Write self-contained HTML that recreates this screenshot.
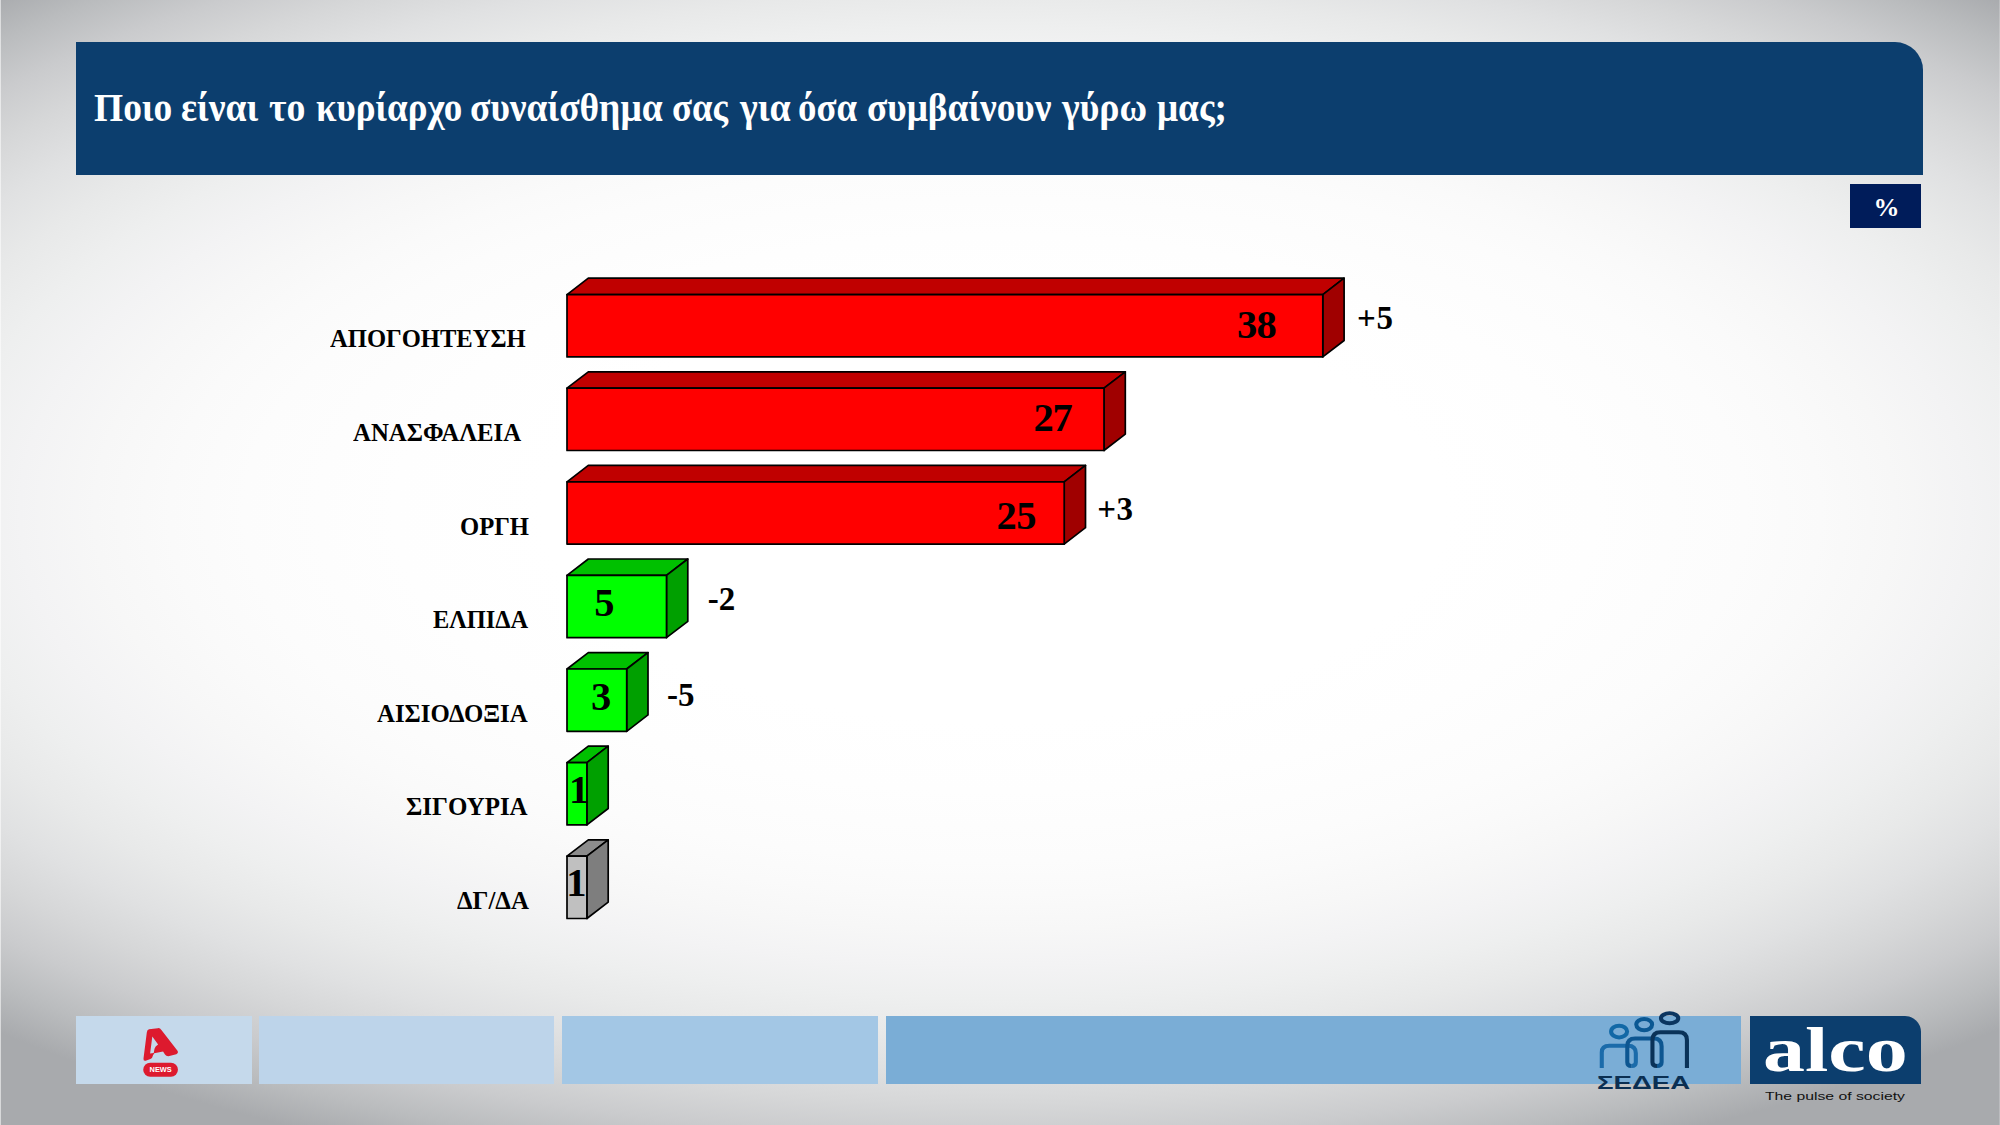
<!DOCTYPE html>
<html lang="el">
<head>
<meta charset="utf-8">
<title>Ποιο είναι το κυρίαρχο συναίσθημα σας για όσα συμβαίνουν γύρω μας;</title>
<style>
html,body{margin:0;padding:0;}
body{width:2000px;height:1125px;overflow:hidden;position:relative;background:#fff;font-family:"Liberation Serif",serif;}
div,span,h1{transform-origin:0 0;}
#hdr{position:absolute;left:76px;top:42.4px;width:1847.4px;height:132.6px;background:#0C3E6E;border-top-right-radius:28px;}
#title{position:absolute;left:0;margin:0;color:#fff;font-weight:bold;font-size:40px;line-height:40px;white-space:pre;width:2000px;height:40px;}
#title span{position:absolute;top:0;}
#pctbox{position:absolute;left:1850.2px;top:184.2px;width:71.2px;height:44px;background:#001C5A;}
.pct{position:absolute;color:#fff;font-weight:bold;font-size:26px;line-height:26px;}
.lab{position:absolute;font-weight:bold;font-size:26px;line-height:26px;color:#000;white-space:pre;}
.val{position:absolute;font-weight:bold;font-size:40.5px;line-height:40.5px;color:#000;white-space:pre;}
.dlt{position:absolute;font-weight:bold;font-size:33px;line-height:33px;color:#000;white-space:pre;}
.bar{position:absolute;left:0;top:0;}
.bar polygon,.bar rect{stroke:#000;stroke-width:1.7;stroke-linejoin:round;}
.fb{position:absolute;top:1015.5px;height:68.5px;}
.news{position:absolute;font-family:"Liberation Sans",sans-serif;font-weight:bold;font-size:7.4px;line-height:7.4px;color:#fff;white-space:pre;}
.sedea{position:absolute;font-family:"Liberation Sans",sans-serif;font-weight:bold;font-size:18.2px;line-height:18.2px;color:#0B2F52;white-space:pre;}
.alco{position:absolute;font-family:"Liberation Serif",serif;font-weight:bold;font-size:63px;line-height:63px;color:#fff;white-space:pre;}
.pulse{position:absolute;font-family:"Liberation Sans",sans-serif;font-weight:normal;font-size:11px;line-height:11px;color:#111;white-space:pre;}
#logos{position:absolute;left:0;top:0;}

</style>
</head>
<body>
<div id="bg">
<div class="bgt" style="position:absolute;left:0;top:0;width:2000px;height:513.0px;background:radial-gradient(ellipse 1500px 695px at 995px 513px,rgb(255,255,255) 0%,rgb(255,255,255) 30%,rgb(254,254,254) 40%,rgb(253,253,253) 45%,rgb(252,252,252) 50%,rgb(250,250,250) 55%,rgb(247,247,247) 60%,rgb(243,243,244) 65%,rgb(238,239,239) 70%,rgb(232,233,233) 75%,rgb(224,225,226) 80%,rgb(214,215,216) 85%,rgb(202,203,205) 90%,rgb(186,188,190) 95%,rgb(168,170,173) 100%);"></div>
<div class="bgb" style="position:absolute;left:0;top:513.0px;width:2000px;height:612.0px;background:radial-gradient(ellipse 1500px 695px at 995px 0.0px,rgb(255,255,255) 0%,rgb(255,255,255) 30%,rgb(254,254,254) 40%,rgb(253,253,253) 45%,rgb(252,252,252) 50%,rgb(250,250,250) 55%,rgb(247,247,247) 60%,rgb(243,243,244) 65%,rgb(238,239,239) 70%,rgb(232,233,233) 75%,rgb(224,225,226) 80%,rgb(214,215,216) 85%,rgb(202,203,205) 90%,rgb(186,188,190) 95%,rgb(168,170,173) 100%);"></div>
<div style="position:absolute;left:0;top:0;width:1px;height:1125px;background:rgba(255,255,255,0.55)"></div>
<div style="position:absolute;left:1999px;top:0;width:1px;height:1125px;background:rgba(255,255,255,0.22)"></div>
</div>

<div id="hdr"></div>
<h1 id="title" style="top:88px"><span style="left:94.4px;transform:scaleX(0.9365)">Ποιο</span> <span style="left:181.0px;transform:scaleX(0.9383)">είναι</span> <span style="left:269.0px;transform:scaleX(0.9452)">το</span> <span style="left:315.6px;transform:scaleX(0.9261)">κυρίαρχο</span> <span style="left:470.0px;transform:scaleX(0.9373)">συναίσθημα</span> <span style="left:672.0px;transform:scaleX(0.918)">σας</span> <span style="left:739.6px;transform:scaleX(0.9472)">για</span> <span style="left:798.0px;transform:scaleX(0.9206)">όσα</span> <span style="left:867.0px;transform:scaleX(0.9337)">συμβαίνουν</span> <span style="left:1062.0px;transform:scaleX(0.9438)">γύρω</span> <span style="left:1157.0px;transform:scaleX(0.9306)">μας;</span></h1>
<div id="pctbox"></div>
<div class="pct" style="left:1873.6px;top:195.0px;">%</div>
<div id="chart">
<div class="row">
<div class="lab" style="left:330.4px;top:326.1px;transform:scaleX(0.9459);">ΑΠΟΓΟΗΤΕΥΣΗ</div>
<svg class="bar" width="2000" height="1125" viewBox="0 0 2000 1125"><polygon points="567.0,294.6 588.3,278.2 1344.1,278.2 1322.8,294.6" fill="#C00000"/><polygon points="1322.8,294.6 1344.1,278.2 1344.1,340.5 1322.8,356.9" fill="#A00000"/><rect x="567.0" y="294.6" width="755.8" height="62.3" fill="#FF0000"/></svg>
<div class="val" style="left:1236.9px;top:305.4px;letter-spacing:-0.7px;">38</div>
<div class="dlt" style="left:1356.9px;top:301.8px;letter-spacing:0.8px;">+5</div>
</div>
<div class="row">
<div class="lab" style="left:353.3px;top:420.3px;transform:scaleX(0.954);">ΑΝΑΣΦΑΛΕΙΑ</div>
<svg class="bar" width="2000" height="1125" viewBox="0 0 2000 1125"><polygon points="567.0,388.2 588.3,371.8 1125.3,371.8 1104.0,388.2" fill="#C00000"/><polygon points="1104.0,388.2 1125.3,371.8 1125.3,434.1 1104.0,450.5" fill="#A00000"/><rect x="567.0" y="388.2" width="537.0" height="62.3" fill="#FF0000"/></svg>
<div class="val" style="left:1033.4px;top:398.1px;letter-spacing:-1.2px;">27</div>
</div>
<div class="row">
<div class="lab" style="left:459.7px;top:514.3px;transform:scaleX(0.9473);">ΟΡΓΗ</div>
<svg class="bar" width="2000" height="1125" viewBox="0 0 2000 1125"><polygon points="567.0,481.8 588.3,465.4 1085.5,465.4 1064.2,481.8" fill="#C00000"/><polygon points="1064.2,481.8 1085.5,465.4 1085.5,527.7 1064.2,544.1" fill="#A00000"/><rect x="567.0" y="481.8" width="497.2" height="62.3" fill="#FF0000"/></svg>
<div class="val" style="left:996.4px;top:496.3px;letter-spacing:-0.5px;">25</div>
<div class="dlt" style="left:1097.2px;top:492.5px;letter-spacing:0.4px;">+3</div>
</div>
<div class="row">
<div class="lab" style="left:433.1px;top:607.0px;transform:scaleX(0.9387);">ΕΛΠΙΔΑ</div>
<svg class="bar" width="2000" height="1125" viewBox="0 0 2000 1125"><polygon points="567.0,575.4 588.3,559.0 687.8,559.0 666.5,575.4" fill="#00C000"/><polygon points="666.5,575.4 687.8,559.0 687.8,621.3 666.5,637.7" fill="#00A000"/><rect x="567.0" y="575.4" width="99.5" height="62.3" fill="#00FF00"/></svg>
<div class="val" style="left:594.3px;top:582.9px;">5</div>
<div class="dlt" style="left:707.8px;top:582.5px;">-2</div>
</div>
<div class="row">
<div class="lab" style="left:377.1px;top:701.0px;transform:scaleX(0.9545);">ΑΙΣΙΟΔΟΞΙΑ</div>
<svg class="bar" width="2000" height="1125" viewBox="0 0 2000 1125"><polygon points="567.0,669.0 588.3,652.6 648.0,652.6 626.7,669.0" fill="#00C000"/><polygon points="626.7,669.0 648.0,652.6 648.0,714.9 626.7,731.3" fill="#00A000"/><rect x="567.0" y="669.0" width="59.7" height="62.3" fill="#00FF00"/></svg>
<div class="val" style="left:590.9px;top:676.6px;">3</div>
<div class="dlt" style="left:666.9px;top:679.3px;letter-spacing:0.1px;">-5</div>
</div>
<div class="row">
<div class="lab" style="left:406.4px;top:794.0px;transform:scaleX(0.9596);">ΣΙΓΟΥΡΙΑ</div>
<svg class="bar" width="2000" height="1125" viewBox="0 0 2000 1125"><polygon points="567.0,762.6 588.3,746.2 608.2,746.2 586.9,762.6" fill="#00C000"/><polygon points="586.9,762.6 608.2,746.2 608.2,808.5 586.9,824.9" fill="#00A000"/><rect x="567.0" y="762.6" width="19.9" height="62.3" fill="#00FF00"/></svg>
<div class="val" style="left:569.0px;top:769.9px;">1</div>
</div>
<div class="row">
<div class="lab" style="left:457.1px;top:887.7px;transform:scaleX(0.9574);">ΔΓ/ΔΑ</div>
<svg class="bar" width="2000" height="1125" viewBox="0 0 2000 1125"><polygon points="567.0,856.2 588.3,839.8 608.2,839.8 586.9,856.2" fill="#8C8C8C"/><polygon points="586.9,856.2 608.2,839.8 608.2,902.1 586.9,918.5" fill="#7E7E7E"/><rect x="567.0" y="856.2" width="19.9" height="62.3" fill="#C0C0C0"/></svg>
<div class="val" style="left:566.3px;top:863.2px;">1</div>
</div>
</div>
<div class="fb" style="left:76px;width:175.5px;background:#C5D9EB"></div>
<div class="fb" style="left:259.3px;width:294.3px;background:#BDD4EA"></div>
<div class="fb" style="left:562.4px;width:315.6px;background:#A3C7E5"></div>
<div class="fb" style="left:886px;width:855.3px;background:#7AADD6"></div>
<div class="fb" style="left:1749.7px;width:171.2px;background:#0C3E6E;border-top-right-radius:16px"></div>
<svg id="logos" width="2000" height="1125" viewBox="0 0 2000 1125">
<g transform="translate(130,1020) scale(0.0551)" fill="#DD1A2E">
<path fill-rule="evenodd" d="M345,170 L505,148 Q545,143 570,180 L862,560 Q885,600 840,622 L715,655 Q660,665 635,625 L600,572 L440,602 L418,640 Q410,690 370,708 L285,738 Q240,750 245,700 L305,225 Q310,178 345,170 Z M405,300 L365,608 L430,600 L445,520 Q455,480 510,445 Z"/>
<rect x="240" y="775" width="630" height="255" rx="127" ry="127"/>
</g>
<g transform="translate(1580,1000) scale(0.08889)" fill="none" stroke-width="46">
<path d="M245,764 V590 Q245,515 330,515 H540 Q628,515 628,600 V700 Q628,742 580,742" stroke="#1B6BAA"/>
<path d="M580,742 Q532,742 532,700 V520 Q532,434 620,434 H830 Q918,434 918,520 V700 Q918,742 866,742" stroke="#0D5691"/>
<path d="M866,742 Q815,742 815,700 V450 Q815,362 905,362 H1112 Q1203,362 1203,450 V764" stroke="#0A3258"/>
<ellipse cx="440" cy="355" rx="90" ry="66" stroke="#1268A6"/>
<ellipse cx="722" cy="277" rx="89" ry="63" stroke="#0B5893"/>
<ellipse cx="1008" cy="205" rx="97" ry="56" stroke="#0B3560"/>
</g>
</svg>
<div class="news" style="left:149.6px;top:1066.1px;letter-spacing:-0.033px;">NEWS</div>
<div class="sedea" style="left:1596.8px;top:1073.9px;transform:scaleX(1.5167);">ΣΕΔΕΑ</div>
<div class="alco" style="left:1763.2px;top:1018.8px;transform:scaleX(1.3337);">alco</div>
<div class="pulse" style="left:1765.4px;top:1090.6px;transform:scaleX(1.4306);">The pulse of society</div>

</body>
</html>
